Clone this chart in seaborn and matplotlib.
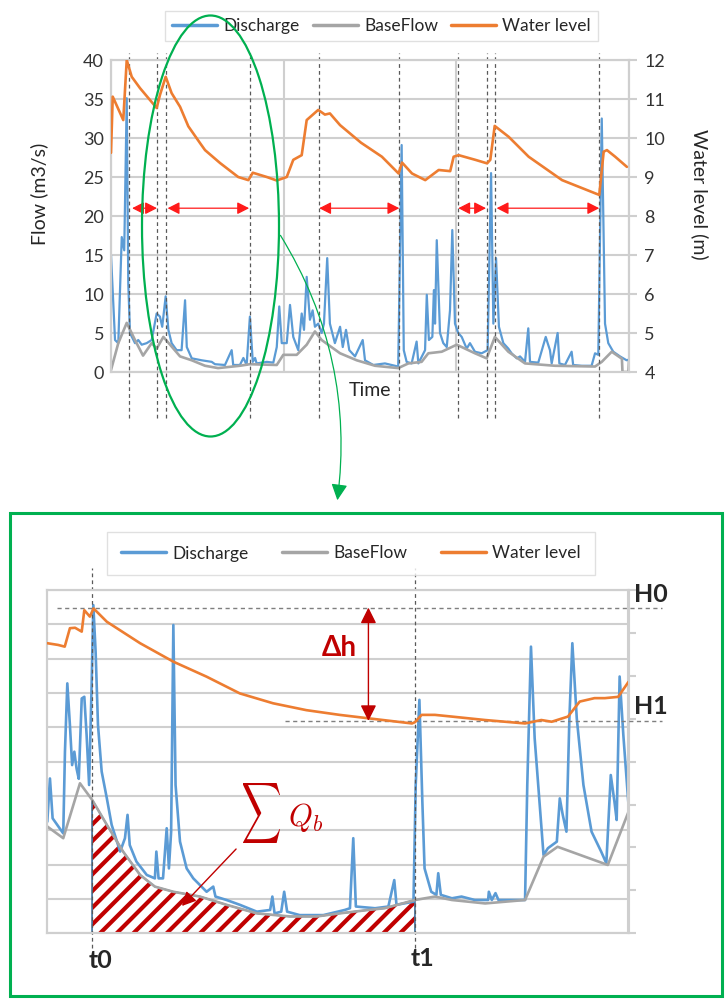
import numpy as np
import matplotlib
matplotlib.use("Agg")
import matplotlib.pyplot as plt
import seaborn as sns
from matplotlib.patches import Ellipse, Rectangle, FancyArrowPatch, PathPatch
from matplotlib.lines import Line2D
from matplotlib.textpath import TextPath
from matplotlib.font_manager import FontProperties
from matplotlib.transforms import Affine2D

# ---- full record (time in days, flow in m3/s, level in m) ----
discharge = [(0, 15.0), (2.1, 4.1), (3.8, 3.7), (5.6, 17.3), (6.9, 15.6), (8.2, 35.1), (9.0, 11.4),
             (9.9, 5.0), (12.5, 3.7), (14.2, 4.1), (16.0, 3.5), (18.6, 3.7), (21.2, 4.1), (23.8, 7.5),
             (25.5, 7.1), (26.7, 5.8), (28.5, 9.7), (29.9, 5.4), (31.6, 3.7), (34.2, 2.8), (36.8, 2.8),
             (38.6, 9.2), (39.5, 3.2), (42.1, 1.75), (47.3, 1.5), (52.5, 1.3), (54.2, 1.0), (59.4, 0.9),
             (62.9, 2.8), (63.7, 0.9), (67.2, 0.9), (69.0, 1.8), (70.7, 0.9), (72.4, 7.1), (73.9, 1.3),
             (75.1, 1.8), (75.9, 1.1), (81.2, 1.3), (84.6, 1.2), (86.4, 3.2), (87.7, 8.4), (89.0, 3.7),
             (91.6, 3.7), (93.3, 8.6), (95.0, 4.5), (97.6, 2.8), (99.4, 7.5), (100.6, 5.4), (102.0, 12.2),
             (103.7, 6.7), (105.1, 7.9), (106.3, 5.8), (108.0, 6.2), (109.8, 5.0), (111.0, 6.2),
             (112.7, 14.6), (114.1, 6.2), (116.7, 3.7), (119.4, 5.8), (120.8, 3.2), (122.5, 5.4),
             (124.2, 2.8), (127.2, 2.0), (131.2, 4.1), (132.4, 1.5), (136.7, 0.9), (142.8, 1.1),
             (146.3, 0.9), (149.7, 0.7), (151.5, 29.1), (152.6, 2.8), (154.1, 1.3), (156.7, 1.1),
             (159.3, 3.9), (160.2, 1.1), (163.7, 2.8), (164.6, 9.9), (165.7, 4.1), (167.5, 4.5),
             (168.3, 10.5), (168.9, 6.2), (169.8, 16.9), (171.5, 5.0), (173.2, 3.7), (175.0, 3.2),
             (176.7, 7.9), (177.9, 18.2), (179.3, 6.2), (181.0, 5.0), (182.8, 4.5), (185.4, 3.0),
             (187.1, 3.7), (189.7, 2.6), (193.2, 2.4), (196.3, 2.8), (198.1, 25.5), (199.3, 6.2),
             (200.7, 14.6), (202.2, 5.8), (204.5, 3.7), (207.1, 3.0), (208.8, 2.4), (211.5, 1.75),
             (213.2, 2.0), (215.8, 1.3), (217.5, 5.6), (218.4, 1.3), (222.7, 1.2), (226.6, 4.5),
             (227.6, 3.7), (228.8, 2.8), (229.7, 1.1), (232.8, 5.0), (233.7, 1.1), (236.6, 0.9),
             (240.1, 2.6), (240.9, 0.9), (245.3, 0.8), (250.5, 0.8), (252.3, 2.4), (254.0, 2.2),
             (255.8, 32.5), (257.5, 6.2), (259.2, 3.7), (261.8, 2.6), (265.3, 2.0), (268.8, 1.5),
             (270, 1.6)]
baseflow = [(0, 0.25), (3.8, 3.7), (8.2, 6.3), (12.5, 4.1), (16.7, 2.1), (21.2, 3.7), (23.8, 3.0),
            (27.3, 4.5), (36.0, 2.0), (42.1, 1.5), (49.0, 0.8), (55.8, 0.5), (67.2, 0.8), (72.4, 1.0),
            (86.4, 0.9), (89.8, 2.2), (96.8, 2.2), (102.0, 3.5), (106.3, 5.2), (109.8, 4.1),
            (119.4, 2.4), (128.1, 1.5), (137.6, 0.8), (149.7, 0.5), (155.0, 1.1), (161.9, 1.3),
            (165.4, 2.4), (172.4, 2.6), (180.2, 3.5), (189.7, 2.4), (195.8, 1.75), (200.1, 4.5),
            (207.1, 2.6), (215.8, 1.1), (231.4, 0.8), (252.3, 0.7), (255.8, 1.3), (261.0, 2.6),
            (266.3, 1.7), (266.6, 0), (269.7, 0), (270, 1.5)]
water_level = [(0, 9.62), (0.9, 11.06), (6.4, 10.46), (7.3, 11.23), (8.2, 12.0), (10.8, 11.57),
               (15.1, 11.28), (23.8, 10.77), (25.5, 11.1), (28.5, 11.57), (31.6, 11.15), (36.0, 10.8),
               (40.3, 10.3), (46.4, 9.87), (49.0, 9.69), (56.8, 9.36), (66.3, 9.0), (71.6, 8.92),
               (73.9, 9.11), (81.2, 9.0), (86.4, 8.91), (91.6, 9.0), (95.0, 9.44), (99.4, 9.56),
               (102.0, 10.46), (108.0, 10.72), (111.5, 10.6), (114.1, 10.63), (119.4, 10.33),
               (130.3, 9.88), (141.2, 9.52), (149.9, 9.09), (151.7, 9.37), (156.9, 9.09), (163.8, 8.92),
               (167.3, 9.05), (170.8, 9.18), (176.8, 9.15), (178.6, 9.52), (181.2, 9.56), (189.9, 9.44),
               (196.0, 9.35), (197.7, 9.44), (200.0, 10.31), (207.3, 10.03), (217.7, 9.52),
               (235.1, 8.92), (254.5, 8.54), (256.8, 9.65), (258.5, 9.69), (262.8, 9.52), (268.9, 9.26)]

event_days = [9.4, 24.0, 28.7, 72.4, 108.4, 150.1, 180.9, 196.0, 200.1, 254.3]
recessions = [(11, 24), (29.5, 72), (108.5, 150.3), (181, 195.5), (201, 254.5)]

# ---- zoomed window (t0 -> t1) ----
z_discharge = [(22.64, 3.25), (23.0, 4.51), (23.36, 3.35), (24.8, 2.91), (25.03, 5.29), (25.35, 7.28),
               (25.7, 6.07), (26.0, 4.9), (26.3, 5.29), (26.6, 4.8), (26.9, 4.5), (27.3, 6.84),
               (27.65, 6.89), (27.96, 5.78), (28.3, 4.32), (28.64, 7.23), (28.87, 9.56), (29.18, 8.2),
               (29.5, 6.07), (30.0, 4.71), (30.7, 3.93), (31.35, 3.16), (32.5, 2.38), (33.15, 2.77),
               (33.5, 3.45), (33.8, 2.57), (34.7, 2.09), (36.1, 1.7), (37.2, 1.6), (37.4, 2.38),
               (37.7, 1.6), (38.3, 1.6), (38.8, 3.06), (39.1, 1.89), (39.4, 2.96), (39.7, 8.98),
               (40.0, 4.32), (40.6, 2.67), (41.5, 1.89), (42.4, 1.6), (44.2, 1.21), (45.1, 1.36),
               (45.4, 1.07), (46.9, 0.97), (48.7, 0.83), (51.0, 0.63), (52.8, 0.68), (53.1, 1.07),
               (53.4, 0.58), (54.3, 0.63), (54.7, 1.21), (55.1, 0.63), (56.8, 0.53), (60.0, 0.53),
               (62.9, 0.68), (63.6, 0.73), (64.05, 2.77), (64.4, 0.78), (67.0, 0.73), (68.8, 0.78),
               (69.6, 1.55), (69.9, 0.83), (72.2, 0.92), (72.5, 4.32), (73.0, 6.8), (73.4, 3.83),
               (73.7, 1.89), (74.6, 1.21), (75.3, 1.12), (75.55, 1.75), (75.9, 1.12), (77.4, 1.02),
               (78.7, 1.07), (80.5, 0.97), (82.3, 0.97), (82.4, 1.21), (82.8, 0.97), (83.3, 1.17),
               (83.7, 0.97), (87.3, 0.97), (87.6, 4.32), (88.1, 8.35), (88.6, 5.68), (89.8, 2.28),
               (90.4, 2.48), (91.6, 2.67), (92.0, 3.93), (92.4, 3.45), (92.9, 2.96), (93.3, 6.26),
               (93.7, 8.45), (94.3, 6.26), (95.2, 4.32), (96.3, 2.96), (97.6, 2.38), (98.3, 2.04),
               (98.9, 4.61), (99.4, 3.83), (99.7, 3.3), (100.1, 7.48), (100.6, 5.78), (101.3, 3.74)]
z_baseflow = [(22.64, 3.11), (24.8, 2.77), (27.06, 4.37), (28.73, 3.88), (30.7, 3.16), (32.9, 2.38),
              (35.2, 1.7), (37.2, 1.36), (39.7, 1.21), (43.3, 1.07), (46.9, 0.83), (51.0, 0.58),
              (55.5, 0.49), (59.1, 0.49), (62.2, 0.58), (66.1, 0.68), (68.3, 0.73), (72.4, 0.97),
              (75.1, 1.07), (77.4, 0.97), (81.9, 0.87), (87.3, 0.97), (89.8, 2.23), (91.7, 2.52),
              (98.5, 1.99), (101.3, 3.54)]
z_water_level = [(22.64, 10.76), (24.1, 10.72), (25.0, 10.68), (25.7, 11.11), (26.4, 11.12),
                 (27.3, 11.03), (27.65, 11.53), (28.4, 11.38), (28.9, 11.57), (30.7, 11.26),
                 (35.2, 10.76), (39.7, 10.33), (44.2, 9.98), (48.7, 9.59), (53.2, 9.36), (57.7, 9.2),
                 (62.2, 9.09), (66.1, 9.01), (72.0, 8.89), (72.4, 8.92), (73.3, 9.09), (75.1, 9.09),
                 (77.4, 9.05), (81.9, 8.97), (87.3, 8.89), (89.5, 8.97), (90.9, 8.93), (93.1, 9.05),
                 (94.7, 9.4), (96.7, 9.48), (98.1, 9.48), (99.9, 9.51), (101.3, 9.86)]
t0, t1 = 28.7, 72.4
h0, h1 = 11.59, 8.95

BLUE, GRAY, ORANGE = '#5b9bd5', '#a5a5a5', '#ed7d31'
GRID, DARKRED, GREEN = '#cfcfcf', '#c00000', '#00b050'
TXT = '#333333'

sns.set_theme(style="white")
plt.rcParams['font.family'] = ['Lato', 'DejaVu Sans']
plt.rcParams['mathtext.fontset'] = 'cm'
plt.rcParams['hatch.linewidth'] = 3.0

W, H = 725, 1001
fig = plt.figure(figsize=(W / 100, H / 100), dpi=100)


def fx(px):
    return px / W


def fy(py):
    return 1 - py / H


def line(ax, data, color, lw, z=3):
    d = np.array(data)
    sns.lineplot(x=d[:, 0], y=d[:, 1], ax=ax, color=color, linewidth=lw,
                 sort=False, estimator=None, legend=False, zorder=z)


def style_axes(ax, ax2, ylim, yticks, labels):
    ax.set_ylim(*ylim)
    ax.set_yticks(yticks)
    ax.grid(True, axis='y', color=GRID, lw=1.5)
    ax.tick_params(axis='both', length=0, labelbottom=False, labelsize=13,
                   labelcolor=TXT, labelleft=labels, pad=5)
    ax2.set_ylim(4, 12)
    ax2.set_yticks(range(4, 13))
    ax2.grid(False)
    ax2.tick_params(axis='y', length=6, width=1.5, color=GRID, direction='out',
                    labelsize=13, labelcolor=TXT, labelright=labels, pad=5)
    for a in (ax, ax2):
        for s in a.spines.values():
            s.set_color(GRID)
            s.set_linewidth(1.5)
        a.set_xlabel('')
        a.set_ylabel('')


def legend(cx, cy, colsp, pad):
    handles = [Line2D([], [], color=c, lw=2.5) for c in (BLUE, GRAY, ORANGE)]
    fig.legend(handles, ['Discharge', 'BaseFlow', 'Water level'], loc='center',
               bbox_to_anchor=(fx(cx), fy(cy)), ncol=3, frameon=True, fancybox=False,
               edgecolor='#d9d9d9', fontsize=12.5, handlelength=2.6, handletextpad=0.35,
               columnspacing=colsp, borderpad=pad, labelcolor='#262626')


# ================= top chart =================
ax = fig.add_axes([fx(111), fy(372), fx(518), 312 / H])
ax2 = ax.twinx()
line(ax, discharge, BLUE, 1.6)
line(ax, baseflow, GRAY, 1.9)
line(ax2, water_level, ORANGE, 1.9)
ax.set_xlim(0, 270)
style_axes(ax, ax2, (0, 40), range(0, 41, 5), True)
ax.set_xticks([0, 90, 180, 270])
ax.grid(True, axis='x', color=GRID, lw=1.5)
ax.set_ylabel('Flow (m3/s)', fontsize=14, color='#262626')
ax.yaxis.set_label_coords(-0.122, 0.57)
ax2.set_ylabel('Water level (m)', fontsize=14, color='#262626', rotation=270, va='center')
ax2.yaxis.set_label_coords(1.137, 0.57)
ax.set_xlabel('Time', fontsize=14, color='#262626', labelpad=7)

for d in event_days:
    ax.axvline(d, ymin=-0.147, ymax=1.022, clip_on=False, color='#595959', lw=0.9,
               ls=(0, (3, 2.5)), zorder=4)
for a, b in recessions:
    ax.annotate('', xy=(a, 21), xytext=(b, 21),
                arrowprops=dict(arrowstyle='<|-|>,head_length=0.55,head_width=0.28',
                                color='#ff1a1a', lw=0.9, shrinkA=0, shrinkB=0,
                                mutation_scale=13), zorder=6)
legend(381.5, 26, 0.75, 0.4)

# ================= zoomed chart =================
bx = fig.add_axes([fx(47), fy(933.3), fx(581.5), 343.3 / H])
bx2 = bx.twinx()
zb = np.array(z_baseflow)
xs = np.array([t0] + [d for d in zb[:, 0] if t0 < d < t1] + [t1])
ys = np.interp(xs, zb[:, 0], zb[:, 1])
bx.fill_between(xs, 0, ys, facecolor='white', edgecolor=DARKRED, hatch='//', lw=0, zorder=2)
bx.fill_between(xs, 0, ys, facecolor='none', edgecolor='#41719c', lw=1.2, zorder=2.5)
line(bx, z_discharge, BLUE, 1.9)
line(bx, z_baseflow, GRAY, 1.9)
line(bx2, z_water_level, ORANGE, 1.9)
bx.set_xlim(22.6, 101.3)
style_axes(bx, bx2, (0, 10), range(0, 11), False)
bx2.tick_params(labelright=False)

for t in (t0, t1):
    bx.axvline(t, ymin=-0.043, ymax=1.064, clip_on=False, color='#595959', lw=0.9,
               ls=(0, (3, 2.5)), zorder=4)
bx2.plot([23.9, 105.8], [h0, h0], color='#7f7f7f', lw=1, ls=(0, (3, 2.5)), clip_on=False)
bx2.plot([54.8, 105.8], [h1, h1], color='#7f7f7f', lw=1, ls=(0, (3, 2.5)), clip_on=False)
bx2.annotate('', xy=(66.1, h0), xytext=(66.1, h1),
             arrowprops=dict(arrowstyle='<|-|>,head_length=0.6,head_width=0.3', color=DARKRED,
                             lw=1, shrinkA=0, shrinkB=0, mutation_scale=16))
fig.text(fx(339), fy(648), 'Δh', color=DARKRED, fontsize=20, fontweight='bold',
         ha='center', va='center')
fig.text(fx(634), fy(595), 'H0', fontsize=18, fontweight='bold', ha='left', va='center')
fig.text(fx(634), fy(706), 'H1', fontsize=18, fontweight='bold', ha='left', va='center')
fig.text(fx(89), fy(960), 't0', fontsize=18, fontweight='bold', ha='left', va='center')
fig.text(fx(411), fy(958), 't1', fontsize=18, fontweight='bold', ha='left', va='center')

# tall summation sign, fitted into its box (243..280 x 783..843 px)
sig = TextPath((0, 0), r'$\sum$', size=40, prop=FontProperties(math_fontfamily='cm'))
ext = sig.get_extents()
to_fig = (Affine2D().translate(-ext.x0, -ext.y0)
          .scale(37 / ext.width / W, 60 / ext.height / H)
          .translate(fx(243), fy(843)))
fig.add_artist(PathPatch(to_fig.transform_path(sig), transform=fig.transFigure,
                         fc=DARKRED, ec='none'))
fig.text(fx(306), fy(817), r'$Q_b$', color=DARKRED, fontsize=22, ha='center', va='center')
fig.add_artist(FancyArrowPatch((fx(238), fy(847)), (fx(180), fy(908)), transform=fig.transFigure,
                               arrowstyle='-|>,head_length=0.6,head_width=0.3', color=DARKRED,
                               lw=1, mutation_scale=14))
legend(351, 553.5, 1.95, 0.8)

# ================= callout decorations =================
fig.add_artist(Ellipse((fx(210.5), fy(226)), fx(137), 421 / H, transform=fig.transFigure,
                       fill=False, ec=GREEN, lw=1.6, zorder=10))
fig.add_artist(FancyArrowPatch((fx(279), fy(233)), (fx(337), fy(503)), transform=fig.transFigure,
                               connectionstyle='arc3,rad=-0.18', arrowstyle='-|>,head_length=0.7,head_width=0.35',
                               color=GREEN, lw=0.9, mutation_scale=14, zorder=10))
fig.add_artist(Rectangle((fx(10), fy(996)), fx(712), 483 / H, transform=fig.transFigure,
                         fill=False, ec=GREEN, lw=2.2, zorder=10))

fig.savefig('out.png', dpi=100)
